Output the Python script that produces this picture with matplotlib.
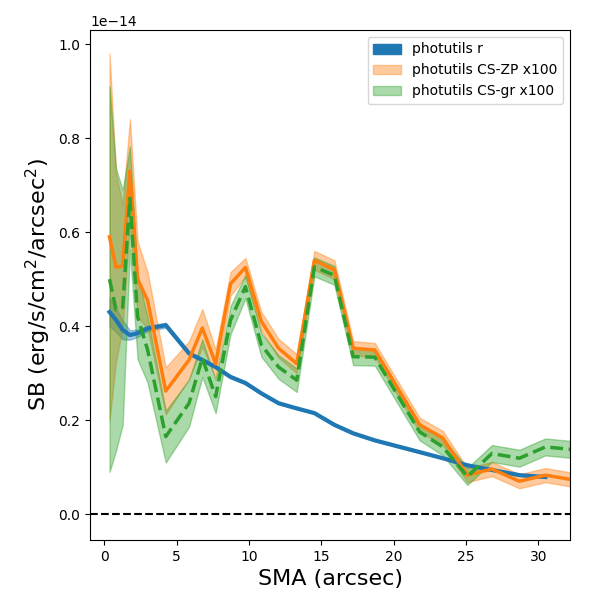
import numpy as np
import matplotlib
matplotlib.use("Agg")
import matplotlib.pyplot as plt
from matplotlib.patches import Patch

sma = [0.35, 0.80, 1.26, 1.76, 2.29, 2.98, 4.24, 5.85, 6.77, 7.69, 8.72, 9.75, 10.85,
       12.04, 13.3, 14.52, 15.9, 17.2, 18.7, 21.8, 23.4, 25.1, 26.8, 28.7, 30.5, 32.2]

sb_r = [0.43, 0.413, 0.392, 0.381, 0.385, 0.395, 0.402, 0.342, 0.328, 0.313, 0.292, 0.279,
        0.257, 0.236, 0.225, 0.215, 0.19, 0.172, 0.157, 0.132, 0.119, 0.104, 0.094, 0.083, 0.079]
err_r = [0.03, 0.025, 0.02, 0.01, 0.008, 0.006, 0.005, 0.004, 0.003, 0.003, 0.003, 0.003,
         0.002, 0.002, 0.002, 0.002, 0.002, 0.002, 0.002, 0.002, 0.002, 0.002, 0.002, 0.002, 0.002]

sb_zp = [0.59, 0.525, 0.528, 0.73, 0.50, 0.455, 0.262, 0.328, 0.396, 0.32, 0.49, 0.525, 0.41,
         0.353, 0.32, 0.54, 0.52, 0.353, 0.349, 0.19, 0.162, 0.083, 0.096, 0.07, 0.083, 0.074]
err_zp = [0.39, 0.2, 0.13, 0.11, 0.08, 0.06, 0.05, 0.04, 0.04, 0.03, 0.025, 0.02, 0.02,
          0.02, 0.02, 0.02, 0.02, 0.015, 0.015, 0.015, 0.015, 0.015, 0.015, 0.015, 0.015, 0.015]

sb_gr = [0.50, 0.435, 0.44, 0.672, 0.42, 0.35, 0.165, 0.236, 0.332, 0.25, 0.413, 0.484, 0.36,
         0.313, 0.285, 0.526, 0.508, 0.335, 0.334, 0.175, 0.143, 0.08, 0.129, 0.119, 0.143, 0.138]
err_gr = [0.41, 0.3, 0.25, 0.11, 0.09, 0.07, 0.055, 0.05, 0.04, 0.035, 0.03, 0.025, 0.025,
          0.025, 0.025, 0.02, 0.02, 0.018, 0.018, 0.018, 0.018, 0.018, 0.018, 0.018, 0.018, 0.018]

scale = 1e-14
x = np.array(sma)
xr = x[:len(sb_r)]
r, er = np.array(sb_r) * scale, np.array(err_r) * scale
zp, ezp = np.array(sb_zp) * scale, np.array(err_zp) * scale
gr, egr = np.array(sb_gr) * scale, np.array(err_gr) * scale

fig, ax = plt.subplots(figsize=(6, 6), dpi=100)

ax.fill_between(xr, r - er, r + er, color="C0", alpha=0.4)
ax.plot(xr, r, color="C0", lw=3)
ax.fill_between(x, zp - ezp, zp + ezp, color="C1", alpha=0.4)
ax.plot(x, zp, color="C1", lw=2.5)
ax.fill_between(x, gr - egr, gr + egr, color="C2", alpha=0.4)
ax.plot(x, gr, color="C2", lw=2.5, ls="--")
ax.axhline(0, color="k", ls="--", lw=1.5)

handles = [Patch(color="C0", label="photutils r"),
           Patch(color="C1", alpha=0.4, label="photutils CS-ZP x100"),
           Patch(color="C2", alpha=0.4, label="photutils CS-gr x100")]
ax.legend(handles=handles, loc="upper right")

ax.set_xlim(-1, 32.2)
ax.set_ylim(-0.055e-14, 1.03e-14)
ax.set_xlabel("SMA (arcsec)", fontsize=16)
ax.set_ylabel("SB (erg/s/cm$^2$/arcsec$^2$)", fontsize=16)

plt.subplots_adjust(left=0.15, right=0.95, top=0.95, bottom=0.1)
fig.savefig("out.png")
